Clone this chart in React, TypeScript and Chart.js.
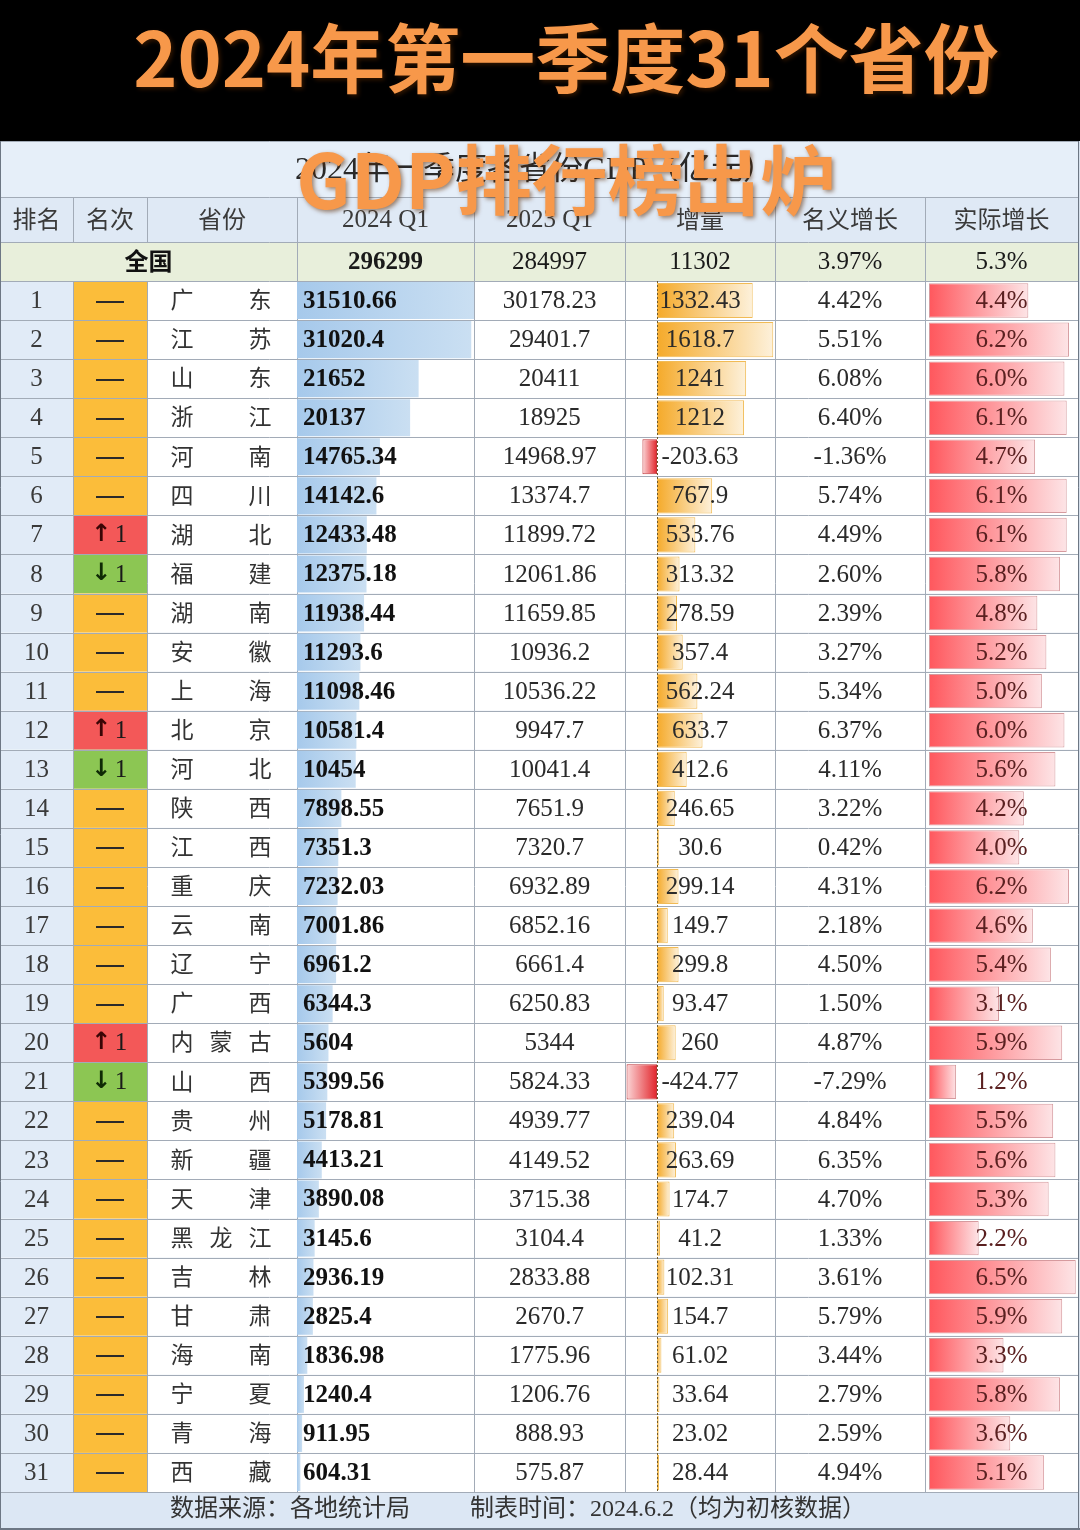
import React, { useEffect, useRef } from 'react';
import { Chart, registerables } from 'chart.js';

Chart.register(...registerables);

// ---------------- data ----------------
const titleText = '2024年第一季度31个省份';
const overlayText = 'GDP排行榜出炉';
const subtitleText = '2024年一季度各省份GDP（亿元）';
const headers = ['排名', '名次', '省份', '2024 Q1', '2023 Q1', '增量', '名义增长', '实际增长'];
const nationalLabel = '全国';
const nationalValues = ['296299', '284997', '11302', '3.97%', '5.3%'];
const footerTexts = ['数据来源：各地统计局', '制表时间：2024.6.2（均为初核数据）'];

const provinces = [
  '广东', '江苏', '山东', '浙江', '河南', '四川', '湖北', '福建', '湖南', '安徽',
  '上海', '北京', '河北', '陕西', '江西', '重庆', '云南', '辽宁', '广西', '内蒙古',
  '山西', '贵州', '新疆', '天津', '黑龙江', '吉林', '甘肃', '海南', '宁夏', '青海', '西藏',
];
const rankChange = [
  0, 0, 0, 0, 0, 0, 1, -1, 0, 0,
  0, 1, -1, 0, 0, 0, 0, 0, 0, 1,
  -1, 0, 0, 0, 0, 0, 0, 0, 0, 0, 0,
];
const gdp2024 = [
  31510.66, 31020.4, 21652, 20137, 14765.34, 14142.6, 12433.48, 12375.18, 11938.44, 11293.6,
  11098.46, 10581.4, 10454, 7898.55, 7351.3, 7232.03, 7001.86, 6961.2, 6344.3, 5604,
  5399.56, 5178.81, 4413.21, 3890.08, 3145.6, 2936.19, 2825.4, 1836.98, 1240.4, 911.95, 604.31,
];
const gdp2023 = [
  30178.23, 29401.7, 20411, 18925, 14968.97, 13374.7, 11899.72, 12061.86, 11659.85, 10936.2,
  10536.22, 9947.7, 10041.4, 7651.9, 7320.7, 6932.89, 6852.16, 6661.4, 6250.83, 5344,
  5824.33, 4939.77, 4149.52, 3715.38, 3104.4, 2833.88, 2670.7, 1775.96, 1206.76, 888.93, 575.87,
];
const increment = [
  1332.43, 1618.7, 1241, 1212, -203.63, 767.9, 533.76, 313.32, 278.59, 357.4,
  562.24, 633.7, 412.6, 246.65, 30.6, 299.14, 149.7, 299.8, 93.47, 260,
  -424.77, 239.04, 263.69, 174.7, 41.2, 102.31, 154.7, 61.02, 33.64, 23.02, 28.44,
];
const nominalGrowth = [
  4.42, 5.51, 6.08, 6.40, -1.36, 5.74, 4.49, 2.60, 2.39, 3.27,
  5.34, 6.37, 4.11, 3.22, 0.42, 4.31, 2.18, 4.50, 1.50, 4.87,
  -7.29, 4.84, 6.35, 4.70, 1.33, 3.61, 5.79, 3.44, 2.79, 2.59, 4.94,
];
const realGrowth = [
  4.4, 6.2, 6.0, 6.1, 4.7, 6.1, 6.1, 5.8, 4.8, 5.2,
  5.0, 6.0, 5.6, 4.2, 4.0, 6.2, 4.6, 5.4, 3.1, 5.9,
  1.2, 5.5, 5.6, 5.3, 2.2, 6.5, 5.9, 3.3, 5.8, 3.6, 5.1,
];

// ---------------- layout / style ----------------
const W = 1080;
const H = 1530;
const COLS = [0, 73, 147, 297, 474, 625, 775, 925, 1078];
const Y_TITLE = 141;
const Y_HEADER = 197;
const Y_NATIONAL = 242;
const Y_ROWS = 281;
const Y_FOOTER = 1492;
const Y_END = 1528;

const SERIF = '"Liberation Serif", "Noto Sans CJK SC", serif';
const SANS = '"Noto Sans CJK SC", "Noto Sans", sans-serif';

const COLORS = {
  orangeTitle: '#f7984a',
  titleRowBg: '#e6eff9',
  headerBg: '#dfe9f5',
  nationalBg: '#e8efdb',
  rankColBg: '#e1ebf7',
  footerBg: '#dce7f4',
  grid: '#a2abb7',
  same: '#fbbd3a',
  up: '#f35858',
  down: '#8cc653',
  text: '#2a2a2a',
  headerText: '#3a3a3a',
  realText: '#5a2020',
};

const fmtPct2 = (v: number) => v.toFixed(2) + '%';
const fmtPct1 = (v: number) => v.toFixed(1) + '%';

function grad(ctx: any, axisId: string, from: string, to: string) {
  const chart = ctx.chart;
  const s = chart.scales[axisId];
  const v = ctx.raw;
  if (!s || typeof v !== 'number') return from;
  const x0 = s.getPixelForValue(0);
  const x1 = s.getPixelForValue(v);
  if (!isFinite(x0) || !isFinite(x1) || Math.abs(x1 - x0) < 0.5) return from;
  const g = chart.ctx.createLinearGradient(x0, 0, x1, 0);
  g.addColorStop(0, from);
  g.addColorStop(1, to);
  return g;
}

function placeScale(s: any, l: number, r: number) {
  if (!s) return;
  s.left = l;
  s.right = r;
  s.width = r - l;
  s.configure();
}

const tablePlugin = {
  id: 'gdpTable',
  afterLayout(chart: any) {
    placeScale(chart.scales.xGdp, 297, 474);
    placeScale(chart.scales.xInc, 625, 775);
    placeScale(chart.scales.xReal, 929, 1078);
  },
  beforeDraw(chart: any) {
    const c = chart.ctx as CanvasRenderingContext2D;
    const y = chart.scales.y;
    const n = provinces.length;
    const rowH = (chart.chartArea.bottom - chart.chartArea.top) / n;
    c.save();
    c.fillStyle = '#000';
    c.fillRect(0, 0, W, H);
    c.fillStyle = '#d6e0ec';
    c.fillRect(0, Y_TITLE, W, Y_END - Y_TITLE);
    c.fillStyle = COLORS.titleRowBg;
    c.fillRect(0, Y_TITLE, COLS[8], Y_HEADER - Y_TITLE);
    c.fillStyle = COLORS.headerBg;
    c.fillRect(0, Y_HEADER, COLS[8], Y_NATIONAL - Y_HEADER);
    c.fillStyle = COLORS.nationalBg;
    c.fillRect(0, Y_NATIONAL, COLS[8], Y_ROWS - Y_NATIONAL);
    for (let i = 0; i < n; i++) {
      const y0 = y.getPixelForValue(i) - rowH / 2;
      c.fillStyle = '#ffffff';
      c.fillRect(0, y0, COLS[8], rowH);
      c.fillStyle = COLORS.rankColBg;
      c.fillRect(COLS[0], y0, COLS[1] - COLS[0], rowH);
      c.fillStyle = rankChange[i] > 0 ? COLORS.up : rankChange[i] < 0 ? COLORS.down : COLORS.same;
      c.fillRect(COLS[1], y0, COLS[2] - COLS[1], rowH);
    }
    c.fillStyle = COLORS.footerBg;
    c.fillRect(0, Y_FOOTER, COLS[8], Y_END - Y_FOOTER);

    // grid
    c.strokeStyle = COLORS.grid;
    c.lineWidth = 1;
    const hline = (yy: number, x0 = 0, x1 = COLS[8]) => {
      c.beginPath();
      c.moveTo(x0, Math.round(yy) + 0.5);
      c.lineTo(x1, Math.round(yy) + 0.5);
      c.stroke();
    };
    const vline = (xx: number, y0: number, y1: number) => {
      c.beginPath();
      c.moveTo(Math.round(xx) + 0.5, y0);
      c.lineTo(Math.round(xx) + 0.5, y1);
      c.stroke();
    };
    hline(Y_TITLE);
    hline(Y_HEADER);
    hline(Y_NATIONAL);
    for (let i = 0; i < n; i++) hline(y.getPixelForValue(i) - rowH / 2);
    hline(Y_FOOTER);
    for (let k = 1; k < COLS.length - 1; k++) {
      vline(COLS[k], Y_HEADER, Y_NATIONAL);
      if (k >= 3) vline(COLS[k], Y_NATIONAL, Y_ROWS);
      vline(COLS[k], Y_ROWS, Y_FOOTER);
    }
    c.strokeStyle = '#6d7784';
    vline(0, Y_TITLE, Y_END);
    vline(COLS[8], Y_TITLE, Y_END);
    c.lineWidth = 2;
    c.beginPath();
    c.moveTo(0, Y_END + 1);
    c.lineTo(W, Y_END + 1);
    c.stroke();
    c.restore();
  },
  afterDatasetsDraw(chart: any) {
    const c = chart.ctx as CanvasRenderingContext2D;
    const y = chart.scales.y;
    const xInc = chart.scales.xInc;
    const n = provinces.length;
    c.save();

    // dotted axis of the increment bars
    const ax = Math.round(xInc.getPixelForValue(0)) + 0.5;
    c.strokeStyle = '#6e5a2c';
    c.lineWidth = 1;
    c.setLineDash([2, 2]);
    c.beginPath();
    c.moveTo(ax, chart.chartArea.top);
    c.lineTo(ax, chart.chartArea.bottom);
    c.stroke();
    c.setLineDash([]);

    const txt = (s: string, x: number, yy: number, font: string, color: string, align: CanvasTextAlign = 'center') => {
      c.font = font;
      c.fillStyle = color;
      c.textAlign = align;
      c.textBaseline = 'middle';
      c.fillText(s, x, yy);
    };
    const mid = (k: number) => (COLS[k] + COLS[k + 1]) / 2;

    // headers
    const hy = (Y_HEADER + Y_NATIONAL) / 2;
    headers.forEach((h, k) => {
      const isNum = /\d/.test(h);
      const font = isNum ? `25px ${SERIF}` : `24px ${SANS}`;
      txt(h, mid(k), isNum ? hy + 1 : hy - 1, font, COLORS.headerText);
    });

    // national row
    const ny = (Y_NATIONAL + Y_ROWS) / 2;
    txt(nationalLabel, (COLS[0] + COLS[3]) / 2, ny - 1, `bold 24px ${SANS}`, '#111');
    nationalValues.forEach((v, k) => {
      txt(v, mid(k + 3), ny + 1, (k === 0 ? 'bold ' : '') + `25px ${SERIF}`, '#1a1a1a');
    });

    // data rows
    for (let i = 0; i < n; i++) {
      const yc = y.getPixelForValue(i);
      txt(String(i + 1), mid(0), yc + 1, `25px ${SERIF}`, COLORS.headerText);
      const ch = rankChange[i];
      if (ch === 0) {
        c.fillStyle = '#2a2a2a';
        c.fillRect(Math.round(mid(1) - 14), Math.round(yc), 28, 2);
      } else {
        txt(ch > 0 ? '↑' : '↓', mid(1) - 9, yc, `bold 24px "DejaVu Sans", sans-serif`, ch > 0 ? '#3a0505' : '#0f2a05');
        txt(String(Math.abs(ch)), mid(1) + 11, yc + 1, `25px ${SERIF}`, '#1a1a1a');
      }
      const chars = Array.from(provinces[i]);
      const px0 = 182, px1 = 260;
      chars.forEach((chr, k) => {
        const x = chars.length === 1 ? (px0 + px1) / 2 : px0 + ((px1 - px0) * k) / (chars.length - 1);
        txt(chr, x, yc - 1, `23px ${SANS}`, '#333');
      });
      txt(String(gdp2024[i]), COLS[3] + 6, yc + 1, `bold 25px ${SERIF}`, '#111', 'left');
      txt(String(gdp2023[i]), mid(4), yc + 1, `25px ${SERIF}`, COLORS.text);
      txt(String(increment[i]), mid(5), yc + 1, `25px ${SERIF}`, COLORS.text);
      txt(fmtPct2(nominalGrowth[i]), mid(6), yc + 1, `25px ${SERIF}`, COLORS.text);
      txt(fmtPct1(realGrowth[i]), mid(7), yc + 1, `25px ${SERIF}`, COLORS.realText);
    }

    // footer
    const fy = (Y_FOOTER + Y_END) / 2;
    txt(footerTexts[0], 170, fy, `24px ${SERIF}`, '#333', 'left');
    txt(footerTexts[1], 470, fy, `24px ${SERIF}`, '#333', 'left');

    // subtitle row (behind overlay)
    txt(subtitleText, 535, (Y_TITLE + Y_HEADER) / 2 + 2, `32px ${SERIF}`, '#2a2a2a');

    // orange titles
    c.shadowColor = 'rgba(90,40,0,0.55)';
    c.shadowBlur = 4;
    c.shadowOffsetX = 2;
    c.shadowOffsetY = 2;
    txt(titleText, 566, 58, `bold 75px ${SANS}`, COLORS.orangeTitle);
    txt(overlayText, 566, 180, `bold 76px ${SANS}`, COLORS.orangeTitle);
    c.restore();
  },
};

export default function App() {
  const ref = useRef<HTMLCanvasElement>(null);
  useEffect(() => {
    document.body.style.margin = '0';
    const canvas = ref.current;
    if (!canvas) return;
    const chart = new Chart(canvas, {
      type: 'bar',
      data: {
        labels: provinces,
        datasets: [
          {
            label: '2024 Q1',
            data: gdp2024,
            xAxisID: 'xGdp',
            yAxisID: 'y',
            grouped: false,
            barPercentage: 0.95,
            categoryPercentage: 1,
            backgroundColor: (ctx: any) => grad(ctx, 'xGdp', '#a6c9eb', '#cadff2'),
            borderWidth: 0,
          } as any,
          {
            label: '增量',
            data: increment,
            xAxisID: 'xInc',
            yAxisID: 'y',
            grouped: false,
            barPercentage: 0.9,
            categoryPercentage: 1,
            backgroundColor: (ctx: any) =>
              (ctx.raw ?? 0) >= 0
                ? grad(ctx, 'xInc', '#f5aa2a', '#fdf1db')
                : grad(ctx, 'xInc', '#e2252b', '#fbd6d7'),
            borderColor: (ctx: any) => ((ctx.raw ?? 0) >= 0 ? '#f1bb55' : '#c0353a'),
            borderWidth: 1,
            borderSkipped: false,
          } as any,
          {
            label: '实际增长',
            data: realGrowth,
            xAxisID: 'xReal',
            yAxisID: 'y',
            grouped: false,
            barPercentage: 0.88,
            categoryPercentage: 1,
            backgroundColor: (ctx: any) => grad(ctx, 'xReal', '#ff575d', '#fde4e6'),
            borderColor: '#d69a9e',
            borderWidth: 1,
            borderSkipped: false,
          } as any,
        ],
      },
      options: {
        indexAxis: 'y',
        animation: false,
        responsive: false,
        maintainAspectRatio: false,
        devicePixelRatio: 1,
        events: [],
        layout: { padding: { top: Y_ROWS, bottom: H - Y_FOOTER, left: 0, right: 0 } },
        scales: {
          y: { type: 'category', display: false, offset: true },
          xGdp: { type: 'linear', axis: 'x', position: 'bottom', display: false, min: 0, max: 31510.66 },
          xInc: { type: 'linear', axis: 'x', position: 'bottom', display: false, min: -446, max: 1643 },
          xReal: { type: 'linear', axis: 'x', position: 'bottom', display: false, min: 0, max: 6.6 },
        } as any,
        plugins: {
          legend: { display: false },
          tooltip: { enabled: false },
          title: { display: false },
        },
      },
      plugins: [tablePlugin as any],
    });
    return () => chart.destroy();
  }, []);
  return (
    <div style={{ width: W, height: H, position: 'relative', overflow: 'hidden' }}>
      <canvas ref={ref} width={W} height={H} style={{ display: 'block', width: W, height: H }} />
    </div>
  );
}
